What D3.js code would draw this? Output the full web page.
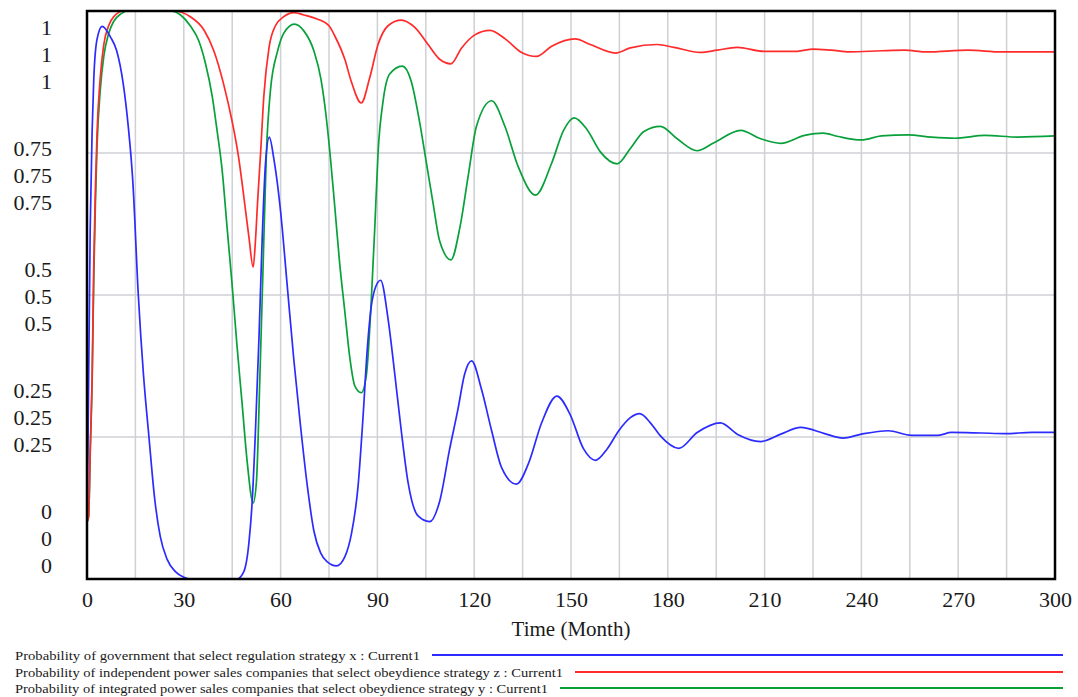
<!DOCTYPE html>
<html>
<head>
<meta charset="utf-8">
<script src="https://cdn.jsdelivr.net/npm/d3@7"></script>
<style>
  body { margin: 0; background: #fff; }
  text { font-family: "Liberation Serif", "Times New Roman", serif; }
</style>
</head>
<body>
<div id="chart"></div>
<script>
// Data ([month, value])
const xGov = [[0,0.098],[0.3,0.23],[1,0.62],[1.6,0.79],[2.1,0.88],[3.1,0.95],[4.7,0.973],[7.2,0.955],[9.2,0.93],[11.2,0.873],[12.8,0.796],[14.2,0.70],[15.9,0.5],[17.5,0.36],[19.2,0.25],[21,0.14],[22.7,0.075],[24.8,0.035],[27.4,0.013],[30,0.003],[32,0],[46.5,0],[48.6,0.013],[50.2,0.065],[51.2,0.137],[52.2,0.26],[53.3,0.425],[54.3,0.6],[55.3,0.73],[56.5,0.778],[57.9,0.74],[60,0.647],[62,0.52],[64.1,0.386],[66.2,0.268],[68.3,0.163],[70.3,0.085],[72.4,0.046],[74.5,0.03],[77.3,0.023],[79.9,0.039],[81.9,0.078],[84,0.163],[85.6,0.29],[86.8,0.4],[88.1,0.48],[89.5,0.515],[91,0.526],[93.3,0.458],[95.4,0.36],[97.4,0.261],[99.5,0.17],[102.6,0.111],[106.2,0.101],[109.3,0.137],[112.4,0.229],[115,0.30],[117,0.36],[119.2,0.384],[122.3,0.333],[125.4,0.261],[128.5,0.196],[133.1,0.167],[136.8,0.203],[140.9,0.275],[145.6,0.322],[149.7,0.29],[153.9,0.229],[157.6,0.209],[161.2,0.229],[164.8,0.261],[168.4,0.284],[171.3,0.291],[174.6,0.275],[177.7,0.252],[183.4,0.23],[189.1,0.258],[196.3,0.275],[201.5,0.255],[208.8,0.242],[215,0.255],[221.2,0.267],[228.6,0.256],[234.3,0.248],[240,0.255],[248.3,0.261],[255.5,0.253],[263.8,0.253],[267.9,0.258],[277.2,0.257],[284.5,0.256],[292.8,0.258],[300,0.258]];

const zIndep = [[0,0.10],[0.5,0.11],[1,0.23],[1.6,0.36],[2.1,0.556],[2.6,0.686],[3.1,0.784],[4.1,0.882],[5.2,0.941],[6.7,0.974],[8.3,0.99],[11.4,1],[26.9,1],[32,0.99],[36.2,0.967],[39.3,0.93],[42.4,0.87],[45,0.805],[47,0.742],[48.6,0.673],[50.2,0.601],[51.5,0.549],[52.2,0.595],[52.9,0.667],[53.8,0.75],[54.8,0.85],[56.4,0.935],[58.4,0.974],[61,0.99],[64.1,0.997],[67.2,0.993],[71.3,0.986],[75,0.974],[76.8,0.956],[79.9,0.915],[81.9,0.876],[85,0.838],[87.6,0.882],[90.2,0.941],[93.3,0.974],[97.4,0.984],[101.6,0.971],[105.7,0.941],[109.3,0.915],[112.8,0.907],[116.1,0.935],[120.2,0.958],[124.9,0.966],[129.6,0.951],[134.7,0.927],[139.3,0.92],[144,0.938],[151.3,0.951],[156,0.941],[163.8,0.926],[168.4,0.935],[176.7,0.941],[181.9,0.936],[190.1,0.927],[195.3,0.931],[201.5,0.936],[209.8,0.929],[220.1,0.929],[225,0.933],[230.7,0.931],[236.4,0.928],[246.2,0.93],[253.4,0.931],[260.2,0.928],[273.1,0.931],[283.4,0.928],[300,0.928]];

const yInteg = [[0,0.10],[0.5,0.11],[1,0.22],[1.6,0.35],[2.1,0.53],[2.6,0.66],[3.1,0.76],[4.1,0.86],[5.2,0.92],[6.7,0.96],[8.3,0.982],[10.5,0.995],[12.5,1],[25.9,1],[29,0.993],[32,0.974],[34.6,0.948],[36.7,0.908],[38.8,0.85],[40.3,0.79],[41.9,0.719],[43.4,0.62],[45,0.516],[46.5,0.41],[48.1,0.307],[49.6,0.209],[51.5,0.134],[52.5,0.17],[53.6,0.36],[54.6,0.556],[55.6,0.75],[56.9,0.863],[59,0.928],[61,0.961],[64.3,0.977],[67.2,0.965],[70.3,0.93],[72.5,0.88],[74,0.82],[75.3,0.75],[76.8,0.655],[78.3,0.556],[79.9,0.471],[81.4,0.392],[83,0.34],[85,0.328],[86.6,0.36],[88.1,0.49],[89.2,0.62],[90.2,0.75],[91.8,0.843],[93.8,0.889],[97.7,0.903],[100.5,0.876],[103.1,0.804],[105.2,0.732],[107.3,0.66],[109.3,0.595],[112.8,0.562],[115.6,0.62],[118.2,0.712],[120.7,0.797],[125.4,0.842],[129.5,0.797],[133.7,0.725],[139,0.676],[144,0.732],[147.7,0.79],[151,0.812],[155,0.791],[159.1,0.752],[164.3,0.731],[168.4,0.758],[172.6,0.788],[177.7,0.797],[182.9,0.775],[189.1,0.754],[194.3,0.768],[202.6,0.79],[208.8,0.775],[215,0.767],[222.4,0.781],[228.1,0.785],[232.8,0.779],[240,0.773],[246.2,0.78],[254.5,0.782],[261.7,0.778],[269,0.776],[278.3,0.781],[288.6,0.778],[300,0.78]];

const xTicks = [0, 30, 60, 90, 120, 150, 180, 210, 240, 270, 300];
const xGrid = d3.range(15, 300, 15);
const yGrid = [0.25, 0.5, 0.75];
// Vensim-style stacked labels, one per series scale
const yTickValues = [1, 0.75, 0.5, 0.25, 0];
const yTickLabels = [["1", "1", "1"], ["0.75", "0.75", "0.75"], ["0.5", "0.5", "0.5"], ["0.25", "0.25", "0.25"], ["0", "0", "0"]];

const legendLabels = [
  "Probability of government that select regulation strategy x : Current1",
  "Probability of independent power sales companies that select obeydience strategy z : Current1",
  "Probability of integrated power sales companies that select obeydience strategy y : Current1"
];
const seriesColors = ["#2b2bff", "#ff2b2b", "#08a03a"];
const xTitle = "Time (Month)";

function draw() {
  let dimensions = {
    width: 1078,
    height: 697,
    left: 87,
    right: 1055,
    top: 11,
    bottom: 579
  };

  const svg = d3.select('#chart')
    .append('svg')
    .attr('width', dimensions.width)
    .attr('height', dimensions.height);

  svg.append('rect')
    .attr('width', dimensions.width)
    .attr('height', dimensions.height)
    .attr('fill', '#fff');

  // Scales
  const xScale = d3.scaleLinear()
    .domain([0, 300])
    .range([dimensions.left, dimensions.right]);

  const yScale = d3.scaleLinear()
    .domain([0, 1])
    .range([dimensions.bottom, dimensions.top]);

  // label stacks are spread a little tighter than the grid
  const labelScale = d3.scaleLinear()
    .domain([0, 1])
    .range([538, 54]);

  // grid
  svg.append('g')
    .selectAll('line')
    .data(xGrid)
    .join('line')
    .attr('x1', d => xScale(d))
    .attr('x2', d => xScale(d))
    .attr('y1', dimensions.top)
    .attr('y2', dimensions.bottom)
    .attr('stroke', '#cfd0d4')
    .attr('stroke-width', 1.5);

  svg.append('g')
    .selectAll('line')
    .data(yGrid)
    .join('line')
    .attr('x1', dimensions.left)
    .attr('x2', dimensions.right)
    .attr('y1', d => yScale(d))
    .attr('y2', d => yScale(d))
    .attr('stroke', '#cfd0d4')
    .attr('stroke-width', 1.5);

  // lines
  const lineGenerator = d3.line()
    .x(d => xScale(d[0]))
    .y(d => yScale(d[1]))
    .curve(d3.curveMonotoneX);

  const series = [yInteg, zIndep, xGov];
  const colors = [seriesColors[2], seriesColors[1], seriesColors[0]];

  series.forEach((s, i) => {
    svg.append('path')
      .datum(s)
      .attr('d', lineGenerator)
      .attr('fill', 'none')
      .attr('stroke', colors[i])
      .attr('stroke-width', 1.7);
  });

  // frame
  svg.append('rect')
    .attr('x', dimensions.left)
    .attr('y', dimensions.top)
    .attr('width', dimensions.right - dimensions.left)
    .attr('height', dimensions.bottom - dimensions.top)
    .attr('fill', 'none')
    .attr('stroke', '#000')
    .attr('stroke-width', 2.5);

  // x axis labels
  const xAxis = d3.axisBottom(xScale)
    .tickValues(xTicks)
    .tickSize(0)
    .tickPadding(0);

  const xAxisGroup = svg.append('g')
    .attr('transform', 'translate(0,' + dimensions.bottom + ')')
    .call(xAxis);
  xAxisGroup.select('.domain').remove();
  xAxisGroup.selectAll('text')
    .attr('y', 28)
    .attr('dy', 0)
    .attr('fill', '#1a1a1a')
    .style('font-size', '22px')
    .style('font-family', '"Liberation Serif", serif');

  svg.append('text')
    .attr('x', (dimensions.left + dimensions.right) / 2)
    .attr('y', 636)
    .attr('text-anchor', 'middle')
    .attr('fill', '#1a1a1a')
    .style('font-size', '21px')
    .text(xTitle);

  // y stacked labels
  const yLabelGroup = svg.append('g');
  yTickValues.forEach((v, i) => {
    yTickLabels[i].forEach((lab, j) => {
      yLabelGroup.append('text')
        .attr('x', 52)
        .attr('y', labelScale(v) + (j - 1) * 27)
        .attr('dy', '0.35em')
        .attr('text-anchor', 'end')
        .attr('fill', '#1a1a1a')
        .style('font-size', '22px')
        .text(lab);
    });
  });

  // legend
  const legendRows = [655, 672, 688];
  const legendEnds = [420, 563, 548];
  legendLabels.forEach((lab, i) => {
    svg.append('text')
      .attr('x', 15)
      .attr('y', legendRows[i])
      .attr('dy', '0.35em')
      .attr('fill', '#1a1a1a')
      .attr('textLength', legendEnds[i] - 15)
      .attr('lengthAdjust', 'spacingAndGlyphs')
      .style('font-size', '13px')
      .text(lab);

    svg.append('line')
      .attr('x1', legendEnds[i] + 12)
      .attr('x2', 1063)
      .attr('y1', legendRows[i])
      .attr('y2', legendRows[i])
      .attr('stroke', seriesColors[i])
      .attr('stroke-width', 2);
  });
}

draw();
</script>
</body>
</html>
